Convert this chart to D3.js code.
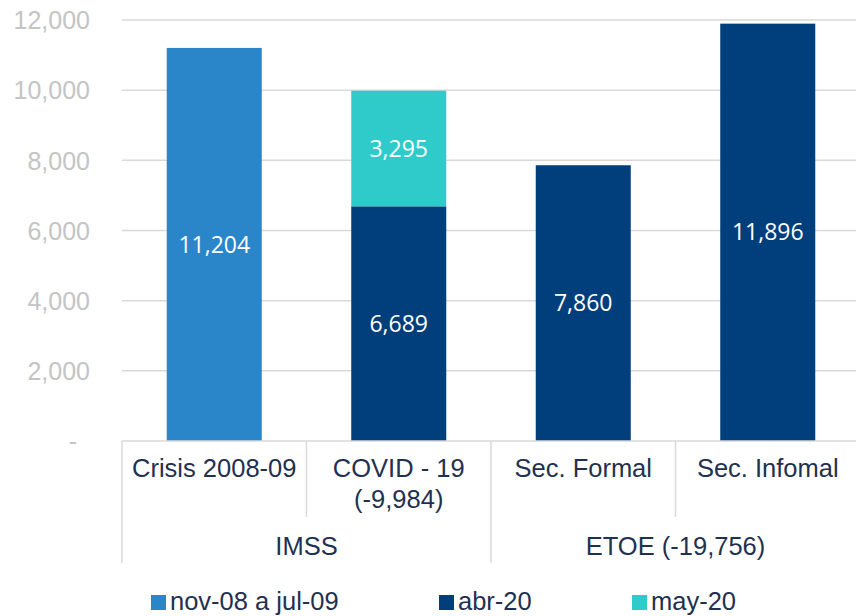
<!DOCTYPE html>
<html>
<head>
<meta charset="utf-8">
<script src="https://cdn.jsdelivr.net/npm/d3@7"></script>
<style>
  body { margin: 0; background: #fff; }
  svg { display: block; }
  .ytick text { font-family: "Liberation Sans", Arial, sans-serif; font-size: 25px; fill: #c4c4c4; }
  .cat { font-family: "Liberation Sans", Arial, sans-serif; font-size: 25.5px; fill: #1f3150; }
  .lbl { font-family: "Open Sans", sans-serif; font-size: 23px; fill: #fff; }
</style>
</head>
<body>
<div id="chart"></div>
<script>
// data
var categories = ["Crisis 2008-09", "COVID - 19|(-9,984)", "Sec. Formal", "Sec. Infomal"];
var groups = ["IMSS", "ETOE (-19,756)"];
var groupSpan = [2, 2];
var seriesNames = ["nov-08 a jul-09", "abr-20", "may-20"];
var nov08 = [11204, 0, 0, 0];
var abr20 = [0, 6689, 7860, 11896];
var may20 = [0, 3295, 0, 0];
var yTicks = [0, 2000, 4000, 6000, 8000, 10000, 12000];
var colors = ["#2a86c8", "#013f7c", "#2fcbcb"];

var width = 856, height = 616;
var margin = {top: 20, left: 122, right: -4, bottom: 175};
var innerW = width - margin.left - margin.right;
var innerH = height - margin.top - margin.bottom;

var svg = d3.select("#chart").append("svg")
  .attr("width", width)
  .attr("height", height);

var table = categories.map(function(c, i) {
  return {cat: c, "nov-08 a jul-09": nov08[i], "abr-20": abr20[i], "may-20": may20[i]};
});

var x = d3.scaleBand().domain(categories).range([0, innerW]);
var y = d3.scaleLinear().domain([0, 12000]).range([innerH, 0]);
var color = d3.scaleOrdinal().domain(seriesNames).range(colors);

var g = svg.append("g")
  .attr("transform", "translate(" + margin.left + "," + margin.top + ")");

// gridlines + y labels
var yAxis = d3.axisLeft(y).tickValues(yTicks)
  .tickSize(0).tickPadding(32)
  .tickFormat(function(d) { return d === 0 ? "-" : d3.format(",")(d); });
var ya = g.append("g").attr("class", "ytick").call(yAxis);
ya.select(".domain").remove();
ya.selectAll("text").attr("dy", "0.35em");
ya.selectAll(".tick").filter(function(d) { return d === 0; }).select("text").attr("x", -45);

g.selectAll(".grid").data(yTicks.filter(function(d) { return d > 0; }))
  .enter().append("line")
  .attr("x1", 0).attr("x2", innerW + 10)
  .attr("y1", function(d) { return y(d); }).attr("y2", function(d) { return y(d); })
  .attr("stroke", "#d9d9d9").attr("stroke-width", 1.5);

// bars
var stack = d3.stack().keys(seriesNames);
var stacked = stack(table);
var barW = x.bandwidth() * 0.515;

var layer = g.selectAll(".layer").data(stacked).enter().append("g")
  .attr("fill", function(d) { return color(d.key); });

layer.selectAll("rect").data(function(d) { return d; })
  .enter().filter(function(d) { return d[1] - d[0] > 0; })
  .append("rect")
  .attr("x", function(d) { return x(d.data.cat) + (x.bandwidth() - barW) / 2; })
  .attr("width", barW)
  .attr("y", function(d) { return y(d[1]); })
  .attr("height", function(d) { return y(d[0]) - y(d[1]); });

layer.selectAll("text").data(function(d) { return d; })
  .enter().filter(function(d) { return d[1] - d[0] > 0; })
  .append("text")
  .attr("class", "lbl")
  .attr("text-anchor", "middle")
  .attr("dy", "0.35em")
  .attr("x", function(d) { return x(d.data.cat) + x.bandwidth() / 2; })
  .attr("y", function(d) { return (y(d[0]) + y(d[1])) / 2; })
  .text(function(d) { return d3.format(",")(d[1] - d[0]); });

// x axis line
g.append("line")
  .attr("x1", 0).attr("x2", innerW + 10)
  .attr("y1", innerH).attr("y2", innerH)
  .attr("stroke", "#d9d9d9").attr("stroke-width", 1.5);

// category separators
var groupStarts = [0];
groupSpan.forEach(function(s, i) { groupStarts.push(groupStarts[i] + s); });
categories.forEach(function(c, i) {
  var isGroup = groupStarts.indexOf(i) >= 0;
  g.append("line")
    .attr("x1", x(c)).attr("x2", x(c))
    .attr("y1", innerH).attr("y2", innerH + (isGroup ? 122 : 76))
    .attr("stroke", "#d9d9d9").attr("stroke-width", 1.5);
});

// category labels
categories.forEach(function(c) {
  var t = g.append("text").attr("class", "cat")
    .attr("text-anchor", "middle")
    .attr("x", x(c) + x.bandwidth() / 2)
    .attr("y", innerH + 36);
  c.split("|").forEach(function(line, j) {
    t.append("tspan").attr("x", x(c) + x.bandwidth() / 2)
      .attr("dy", j === 0 ? 0 : 31).text(line);
  });
});

// group labels
groups.forEach(function(gr, i) {
  var c0 = categories[groupStarts[i]], c1 = categories[groupStarts[i] + groupSpan[i] - 1];
  var cx = (x(c0) + x(c1) + x.bandwidth()) / 2;
  g.append("text").attr("class", "cat")
    .attr("text-anchor", "middle")
    .attr("x", cx).attr("y", innerH + 114)
    .text(gr);
});

// legend
var legendX = [151, 439, 632];
var leg = svg.selectAll(".leg").data(seriesNames).enter().append("g")
  .attr("transform", function(d, i) { return "translate(" + legendX[i] + ",595)"; });
leg.append("rect").attr("width", 15).attr("height", 15)
  .attr("fill", function(d) { return color(d); });
leg.append("text").attr("class", "cat")
  .attr("x", 19).attr("y", 15)
  .text(function(d) { return d; });
</script>
</body>
</html>
